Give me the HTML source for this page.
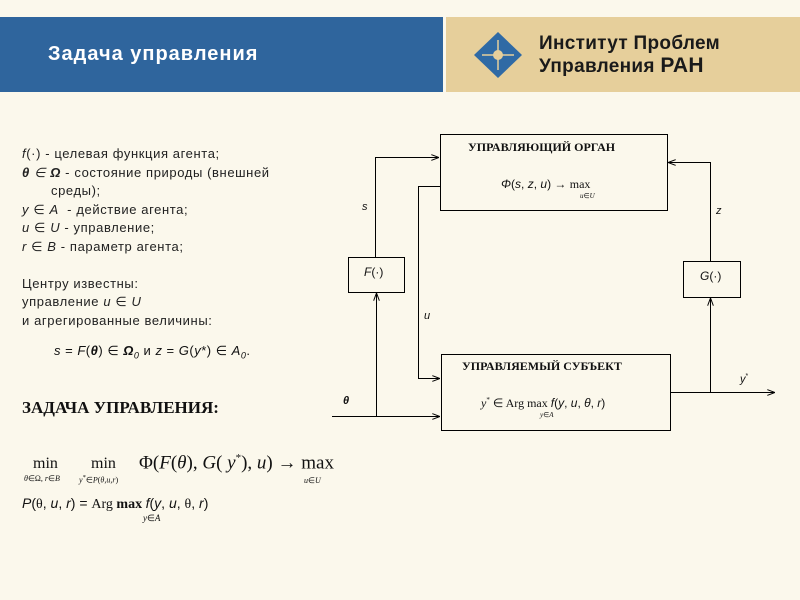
<!DOCTYPE html>
<html><head><meta charset="utf-8"><style>
body{margin:0;width:800px;height:600px;background:#fbf8ec;position:relative;overflow:hidden;font-family:"Liberation Serif",serif;color:#111}
.a{position:absolute;white-space:nowrap}
.s{font-family:"Liberation Sans",sans-serif}
i{font-style:italic}
</style></head><body>
<div class="a" style="left:0;top:17px;width:443px;height:75px;background:#2f659d"></div>
<div class="a" style="left:443px;top:17px;width:3px;height:75px;background:#fbf8ec"></div>
<div class="a" style="left:446px;top:17px;width:354px;height:75px;background:#e6cf9b"></div>
<div class="a s" style="left:48px;top:43px;color:#fff;font-size:20px;font-weight:bold;letter-spacing:1px">Задача управления</div>
<svg class="a" style="left:472px;top:30px" width="52" height="50" viewBox="0 0 52 50"><polygon points="26,2 50,25 26,48 2,25" fill="#2f6aa5"/><circle cx="26" cy="25" r="5" fill="#e6cf9b"/><path d="M10 25H42M26 10V40" stroke="#e6cf9b" stroke-width="1.5"/></svg>
<div class="a s" style="left:539px;top:33px;font-size:19px;font-weight:bold;color:#1a1a1a;line-height:22px;letter-spacing:0.3px">Институт Проблем<br>Управления <span style="font-size:21px">РАН</span></div>

<div class="a s" style="left:22px;top:145px;font-size:13px;letter-spacing:0.6px;line-height:18.5px;color:#222">
<i>f</i>(·) - целевая функция агента;<br>
<i><b>θ</b> ∈ <b>Ω</b></i> - состояние природы (внешней<br>
<span style="padding-left:29px">среды);</span><br>
<i>y</i> ∈ <i>A</i> &nbsp;- действие агента;<br>
<i>u</i> ∈ <i>U</i> - управление;<br>
<i>r</i> ∈ <i>B</i> - параметр агента;<br><br>
Центру известны:<br>
управление <i>u</i> ∈ <i>U</i><br>
и агрегированные величины:</div>
<div class="a s" style="left:54px;top:343px;font-size:13px;letter-spacing:0.5px"><i>s</i> = <i>F</i>(<i><b>θ</b></i>) ∈ <i><b>Ω</b><sub style="font-size:9px">0</sub></i> и <i>z</i> = <i>G</i>(<i>y</i>*) ∈ <i>A<sub style="font-size:9px">0</sub></i>.</div>
<div class="a" style="left:22px;top:398px;font-size:17px;font-weight:bold">ЗАДАЧА УПРАВЛЕНИЯ:</div>
<div class="a" style="left:33px;top:455px;font-size:16px">min</div>
<div class="a" style="left:24px;top:474px;font-size:8px"><i>θ</i>∈Ω, <i>r</i>∈<i>B</i></div>
<div class="a" style="left:91px;top:455px;font-size:16px">min</div>
<div class="a" style="left:79px;top:474px;font-size:8px"><i>y</i><sup>*</sup>∈<i>P</i>(<i>θ,u,r</i>)</div>
<div class="a" style="left:139px;top:452px;font-size:19px">Φ(<i>F</i>(<i>θ</i>), <i>G</i>( <i>y</i><sup style="font-size:11px">*</sup>), <i>u</i>) → max</div>
<div class="a" style="left:304px;top:476px;font-size:8px"><i>u</i>∈<i>U</i></div>
<div class="a" style="left:22px;top:495px;font-size:14px"><span class="s"><i>P</i>(</span>θ<span class="s">, <i>u</i>, <i>r</i>) = </span>Arg <b>max</b> <span class="s"><i>f</i>(<i>y</i>, <i>u</i>, </span>θ<span class="s">, <i>r</i>)</span></div>
<div class="a" style="left:143px;top:513px;font-size:9px"><i>y</i>∈<i>A</i></div>

<svg class="a" style="left:0;top:0" width="800" height="600">
<defs><marker id="m" markerWidth="8" markerHeight="6" refX="8" refY="3" orient="auto"><path d="M0 0L8 3L0 6" fill="none" stroke="#000" stroke-width="1"/></marker></defs>
<g fill="none" stroke="#000" stroke-width="1">
<rect x="440.5" y="134.5" width="227" height="76"/>
<rect x="441.5" y="354.5" width="229" height="76"/>
<rect x="348.5" y="257.5" width="56" height="35"/>
<rect x="683.5" y="261.5" width="57" height="36"/>
<path d="M375.5 257V157.5H439" marker-end="url(#m)"/>
<path d="M440 186.5H418.5V378.5H440" marker-end="url(#m)"/>
<path d="M332 416.5H440" marker-end="url(#m)"/>
<path d="M376.5 416V293" marker-end="url(#m)"/>
<path d="M670 392.5H775" marker-end="url(#m)"/>
<path d="M710.5 392V298" marker-end="url(#m)"/>
<path d="M710.5 261V162.5H668" marker-end="url(#m)"/>
</g>
</svg>
<div class="a" style="left:468px;top:140px;font-size:12px;font-weight:bold">УПРАВЛЯЮЩИЙ ОРГАН</div>
<div class="a s" style="left:501px;top:177px;font-size:12px"><i>Φ</i>(<i>s</i>, <i>z</i>, <i>u</i>) → <span style="font-family:'Liberation Serif'">max</span></div>
<div class="a" style="left:580px;top:192px;font-size:7px"><i>u</i>∈<i>U</i></div>
<div class="a" style="left:462px;top:359px;font-size:12px;font-weight:bold">УПРАВЛЯЕМЫЙ СУБЪЕКТ</div>
<div class="a" style="left:481px;top:396px;font-size:12px"><i>y</i><sup style="font-size:7px">*</sup> ∈ Arg max <span class="s"><i>f</i>(<i>y</i>, <i>u</i>, <i>θ</i>, <i>r</i>)</span></div>
<div class="a" style="left:540px;top:411px;font-size:7px"><i>y</i>∈<i>A</i></div>
<div class="a s" style="left:364px;top:265px;font-size:12px"><i>F</i>(·)</div>
<div class="a s" style="left:700px;top:269px;font-size:12px"><i>G</i>(·)</div>
<div class="a s" style="left:362px;top:201px;font-size:11px"><i>s</i></div>
<div class="a s" style="left:716px;top:205px;font-size:11px"><i>z</i></div>
<div class="a s" style="left:424px;top:310px;font-size:11px"><i>u</i></div>
<div class="a s" style="left:343px;top:395px;font-size:11px"><i><b>θ</b></i></div>
<div class="a s" style="left:740px;top:373px;font-size:11px"><i>y</i><sup style="font-size:7px">*</sup></div>
</body></html>
